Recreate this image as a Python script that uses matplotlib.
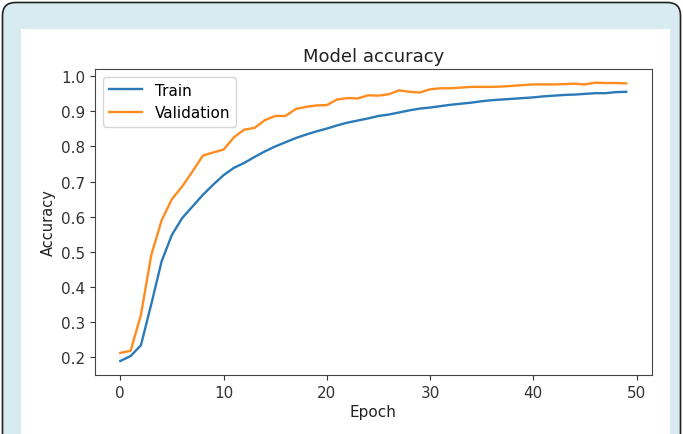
import matplotlib
matplotlib.use("Agg")
import matplotlib.pyplot as plt
from matplotlib.patches import PathPatch, Rectangle
from matplotlib.path import Path
from matplotlib.transforms import IdentityTransform

# --- accuracy per epoch ---
EPOCHS = list(range(50))
TRAIN = [0.188, 0.202, 0.233, 0.350, 0.472, 0.548, 0.596, 0.629, 0.662, 0.691,
         0.718, 0.739, 0.753, 0.770, 0.786, 0.800, 0.812, 0.824, 0.834, 0.843,
         0.851, 0.860, 0.868, 0.874, 0.880, 0.887, 0.891, 0.897, 0.903, 0.908,
         0.911, 0.915, 0.919, 0.922, 0.925, 0.929, 0.932, 0.934, 0.936, 0.938,
         0.940, 0.943, 0.945, 0.947, 0.948, 0.950, 0.952, 0.952, 0.955, 0.956]
VAL = [0.211, 0.217, 0.320, 0.490, 0.589, 0.650, 0.686, 0.729, 0.774, 0.783,
       0.791, 0.826, 0.848, 0.853, 0.875, 0.887, 0.887, 0.907, 0.913, 0.917,
       0.918, 0.934, 0.938, 0.937, 0.946, 0.945, 0.949, 0.960, 0.956, 0.954,
       0.963, 0.966, 0.966, 0.968, 0.970, 0.970, 0.970, 0.971, 0.973, 0.975,
       0.977, 0.977, 0.977, 0.978, 0.979, 0.977, 0.982, 0.981, 0.981, 0.980]
LABELS = ["Train", "Validation"]

W, H = 683, 435
fig = plt.figure(figsize=(W / 100, H / 100), dpi=100)
fig.patch.set_facecolor("white")

# outer frame in pixel coords (origin bottom-left), open at the bottom
x0, x1, top, r = 2.5, W - 2.5, H - 3.5, 13
verts = [(x0, 0), (x0, top - r), (x0, top), (x0 + r, top),
         (x1 - r, top), (x1, top), (x1, top - r), (x1, 0)]
codes = [Path.MOVETO, Path.LINETO, Path.CURVE3, Path.CURVE3,
         Path.LINETO, Path.CURVE3, Path.CURVE3, Path.LINETO]
fig.patches.append(PathPatch(Path(verts + [(x0, 0)], codes + [Path.LINETO]),
                             transform=IdentityTransform(), facecolor="#d7ebf0",
                             edgecolor="none", zorder=-3))
fig.patches.append(PathPatch(Path(verts, codes), transform=IdentityTransform(),
                             fill=False, edgecolor="#222222", linewidth=1.2,
                             zorder=-1))
fig.patches.append(Rectangle((21 / W, 0), (670 - 21) / W, (H - 30) / H,
                             transform=fig.transFigure, facecolor="white",
                             edgecolor="none", zorder=-2))

ax = fig.add_axes([95 / W, 1 - 376 / H, (651.5 - 95) / W, (376 - 70) / H])
ax.plot(EPOCHS, TRAIN, color="#2a7ab8", label=LABELS[0], linewidth=1.7)
ax.plot(EPOCHS, VAL, color="#ff8c1f", label=LABELS[1], linewidth=1.7)
ax.set_xlim(-2.45, 51.45)
ax.set_ylim(0.148, 1.021)
ax.set_xticks([0, 10, 20, 30, 40, 50])
ax.set_yticks([0.2, 0.3, 0.4, 0.5, 0.6, 0.7, 0.8, 0.9, 1.0])
ax.tick_params(labelsize=11, colors="#333333")
ax.set_title("Model accuracy", fontsize=13, color="#222222", pad=6)
ax.set_xlabel("Epoch", fontsize=11, color="#222222", labelpad=3)
ax.set_ylabel("Accuracy", fontsize=10.5, color="#222222")
for s in ax.spines.values():
    s.set_color("#444444")
ax.legend(loc="upper left", fontsize=11, handlelength=2.2)

fig.savefig("out.png", dpi=100)
